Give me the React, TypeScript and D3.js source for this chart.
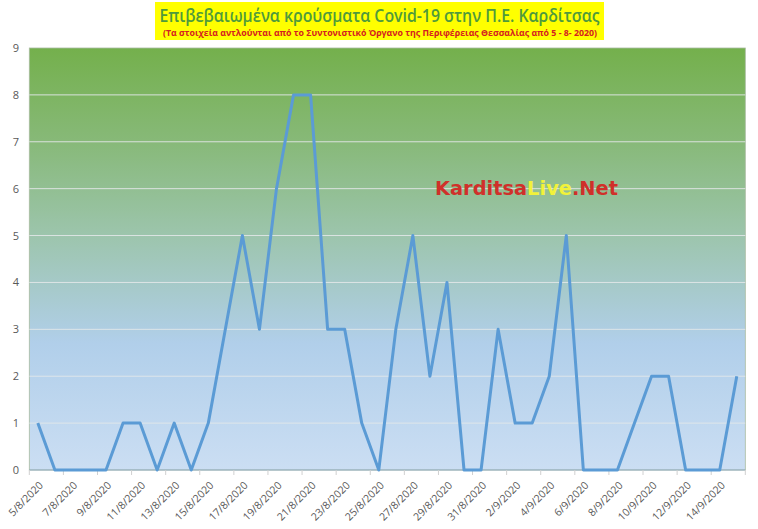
import React from "react";
import * as d3 from "d3";

const dates: string[] = [
  "5/8/2020","6/8/2020","7/8/2020","8/8/2020","9/8/2020","10/8/2020","11/8/2020","12/8/2020",
  "13/8/2020","14/8/2020","15/8/2020","16/8/2020","17/8/2020","18/8/2020","19/8/2020","20/8/2020",
  "21/8/2020","22/8/2020","23/8/2020","24/8/2020","25/8/2020","26/8/2020","27/8/2020","28/8/2020",
  "29/8/2020","30/8/2020","31/8/2020","1/9/2020","2/9/2020","3/9/2020","4/9/2020","5/9/2020",
  "6/9/2020","7/9/2020","8/9/2020","9/9/2020","10/9/2020","11/9/2020","12/9/2020","13/9/2020",
  "14/9/2020","15/9/2020",
];
const cases: number[] = [
  1,0,0,0,0,1,1,0,
  1,0,1,3,5,3,6,8,
  8,3,3,1,0,3,5,2,
  4,0,0,3,1,1,2,5,
  0,0,0,1,2,2,0,0,
  0,2,
];
const yTicks: number[] = [0,1,2,3,4,5,6,7,8,9];

const W = 758, H = 529;
const L = 29.3, R = 745.3, T = 48, B = 470;

export default function App() {
  const x = d3.scaleBand<string>().domain(dates).range([L, R]).padding(0);
  const y = d3.scaleLinear().domain([0, 9]).range([B, T]);
  const bw = x.bandwidth();
  const cx = (d: string) => (x(d) as number) + bw / 2;
  const line = d3.line<number>().x((_, i) => cx(dates[i])).y((v) => y(v));
  const tickIdx = d3.range(0, dates.length + 1, 2);
  const tickX = (i: number) => (i < dates.length ? (x(dates[i]) as number) : R);

  return (
    <svg width={W} height={H} style={{ position: "absolute", left: 0, top: 0, background: "#fff" }}>
      <defs>
        <linearGradient id="bg" x1="0" y1="0" x2="0" y2="1">
          <stop offset="0%" stopColor="#74b04c" />
          <stop offset="22%" stopColor="#87b978" />
          <stop offset="45%" stopColor="#9dc5ae" />
          <stop offset="70%" stopColor="#b1cfea" />
          <stop offset="100%" stopColor="#cbdef3" />
        </linearGradient>
      </defs>
      <rect x={155} y={2} width={449} height={38} fill="#ffff00" />
      <text x={379.5} y={22} textAnchor="middle" fill="#4f9a3c" fontFamily="'Open Sans', sans-serif"
        fontWeight={600} fontSize={18} textLength={440} lengthAdjust="spacingAndGlyphs">
        Επιβεβαιωμένα κρούσματα Covid-19 στην Π.Ε. Καρδίτσας
      </text>
      <text x={380} y={35.5} textAnchor="middle" fill="#d42020" fontFamily="'Open Sans', sans-serif"
        fontWeight={700} fontSize={9.5} textLength={434} lengthAdjust="spacingAndGlyphs">
        (Τα στοιχεία αντλούνται από το Συντονιστικό Όργανο της Περιφέρειας Θεσσαλίας από 5 - 8- 2020)
      </text>

      <rect x={L} y={T} width={R - L} height={B - T} fill="url(#bg)" stroke="#a9bba0" strokeWidth={0.8} />
      {yTicks.filter((t) => t > 0 && t < 9).map((t) => (
        <line key={t} x1={L} x2={R} y1={y(t)} y2={y(t)} stroke="#e4e8ea" strokeWidth={1} opacity={0.9} />
      ))}
      <line x1={L} x2={R} y1={B} y2={B} stroke="#8fa9c0" strokeWidth={1.2} />
      {tickIdx.map((i) => (
        <line key={i} x1={tickX(i)} x2={tickX(i)} y1={B} y2={B + 5} stroke="#d0d0d0" strokeWidth={1} />
      ))}
      {yTicks.map((t) => (
        <text key={t} x={19} y={y(t) + 4} textAnchor="end" fill="#595959"
          fontFamily="'Open Sans', sans-serif" fontSize={11}>
          {t}
        </text>
      ))}
      {dates.map((d, i) =>
        i % 2 === 0 ? (
          <text key={d} transform={`translate(${cx(d) + 6},${486}) rotate(-45)`} textAnchor="end"
            fill="#595959" fontFamily="'Open Sans', sans-serif" fontSize={10.5}>
            {d}
          </text>
        ) : null
      )}

      <text x={435} y={195} fontFamily="'DejaVu Sans', sans-serif" fontWeight={700} fontSize={19}
        textLength={183} lengthAdjust="spacingAndGlyphs">
        <tspan fill="#d0302a">Karditsa</tspan>
        <tspan fill="#f2f23a">Live</tspan>
        <tspan fill="#d0302a">.Net</tspan>
      </text>

      <path d={line(cases) || ""} fill="none" stroke="#5b9bd5" strokeWidth={3} strokeLinejoin="round" />
    </svg>
  );
}
